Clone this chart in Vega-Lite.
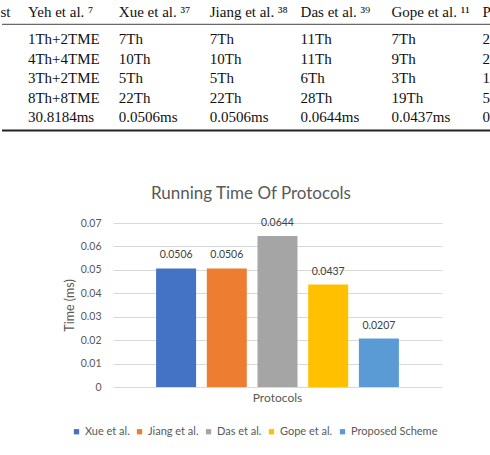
{
  "$schema": "https://vega.github.io/schema/vega-lite/v6.json",
  "padding": 0,
  "background": "white",
  "spacing": 48,
  "config": {"view": {"stroke": null}, "font": "Lato"},
  "datasets": {
    "table": [
      {"row": "h", "col": "Yeh", "text": "st"},
      {"row": "h", "col": "Yeh", "text": "Yeh et al. ⁷"},
      {"row": "h", "col": "Xue", "text": "Xue et al. ³⁷"},
      {"row": "h", "col": "Jiang", "text": "Jiang et al. ³⁸"},
      {"row": "h", "col": "Das", "text": "Das et al. ³⁹"},
      {"row": "h", "col": "Gope", "text": "Gope et al. ¹¹"},
      {"row": "h", "col": "P", "text": "P"},
      {"row": "r1", "col": "Yeh", "text": "1Th+2TME"},
      {"row": "r2", "col": "Yeh", "text": "4Th+4TME"},
      {"row": "r3", "col": "Yeh", "text": "3Th+2TME"},
      {"row": "r4", "col": "Yeh", "text": "8Th+8TME"},
      {"row": "r5", "col": "Yeh", "text": "30.8184ms"},
      {"row": "r1", "col": "Xue", "text": "7Th"},
      {"row": "r2", "col": "Xue", "text": "10Th"},
      {"row": "r3", "col": "Xue", "text": "5Th"},
      {"row": "r4", "col": "Xue", "text": "22Th"},
      {"row": "r5", "col": "Xue", "text": "0.0506ms"},
      {"row": "r1", "col": "Jiang", "text": "7Th"},
      {"row": "r2", "col": "Jiang", "text": "10Th"},
      {"row": "r3", "col": "Jiang", "text": "5Th"},
      {"row": "r4", "col": "Jiang", "text": "22Th"},
      {"row": "r5", "col": "Jiang", "text": "0.0506ms"},
      {"row": "r1", "col": "Das", "text": "11Th"},
      {"row": "r2", "col": "Das", "text": "11Th"},
      {"row": "r3", "col": "Das", "text": "6Th"},
      {"row": "r4", "col": "Das", "text": "28Th"},
      {"row": "r5", "col": "Das", "text": "0.0644ms"},
      {"row": "r1", "col": "Gope", "text": "7Th"},
      {"row": "r2", "col": "Gope", "text": "9Th"},
      {"row": "r3", "col": "Gope", "text": "3Th"},
      {"row": "r4", "col": "Gope", "text": "19Th"},
      {"row": "r5", "col": "Gope", "text": "0.0437ms"},
      {"row": "r1", "col": "P", "text": "2"},
      {"row": "r2", "col": "P", "text": "2"},
      {"row": "r3", "col": "P", "text": "1"},
      {"row": "r4", "col": "P", "text": "5"},
      {"row": "r5", "col": "P", "text": "0"}
    ],
    "lines": [{"row": "h", "kind": "header"}, {"row": "r5", "kind": "bottom"}],
    "chart": [
      {"cat": "Protocols", "protocol": "Xue et al.", "time": 0.0506},
      {"cat": "Protocols", "protocol": "Jiang et al.", "time": 0.0506},
      {"cat": "Protocols", "protocol": "Das et al.", "time": 0.0644},
      {"cat": "Protocols", "protocol": "Gope et al.", "time": 0.0437},
      {"cat": "Protocols", "protocol": "Proposed Scheme", "time": 0.0207}
    ]
  },
  "vconcat": [
    {
      "width": 490,
      "height": 136.5,
      "encoding": {
        "y": {"field": "row", "type": "nominal", "axis": null,
              "scale": {"type": "band", "domain": ["h", "r1", "r2", "r3", "r4", "r5"], "paddingInner": 0, "paddingOuter": 0.5}}
      },
      "layer": [
        {
          "data": {"name": "table"},
          "transform": [{"filter": "datum.row != 'h'"}],
          "mark": {"type": "text", "align": "left", "baseline": "middle", "font": "Liberation Serif", "fontSize": 15, "color": "#111111"},
          "encoding": {
            "x": {"field": "col", "type": "nominal", "axis": null,
                  "scale": {"type": "point", "domain": ["Yeh", "Xue", "Jiang", "Das", "Gope", "P"], "padding": 0.1953, "align": 0.73}},
            "text": {"field": "text"}
          }
        },
        {
          "data": {"name": "table"},
          "transform": [{"filter": "datum.row == 'h' && datum.text != 'st'"}],
          "mark": {"type": "text", "align": "left", "baseline": "middle", "font": "Liberation Serif", "fontSize": 15, "color": "#111111"},
          "encoding": {
            "x": {"field": "col", "type": "nominal", "axis": null},
            "y": {"field": "row", "type": "nominal", "bandPosition": 0.1},
            "text": {"field": "text"}
          }
        },
        {
          "data": {"name": "table"},
          "transform": [{"filter": "datum.text == 'st'"}],
          "mark": {"type": "text", "align": "right", "baseline": "middle", "dx": -17.5, "font": "Liberation Serif", "fontSize": 15, "color": "#111111"},
          "encoding": {
            "x": {"field": "col", "type": "nominal", "axis": null},
            "y": {"field": "row", "type": "nominal", "bandPosition": 0.1},
            "text": {"field": "text"}
          }
        },
        {
          "data": {"name": "lines"},
          "transform": [{"filter": "datum.kind == 'header'"}],
          "mark": {"type": "rule", "color": "#444444", "strokeWidth": 1},
          "encoding": {"y": {"field": "row", "type": "nominal", "bandPosition": 0.746}}
        },
        {
          "data": {"name": "lines"},
          "transform": [{"filter": "datum.kind == 'bottom'"}],
          "mark": {"type": "rule", "color": "#222222", "strokeWidth": 2},
          "encoding": {"y": {"field": "row", "type": "nominal", "bandPosition": 1.19}}
        }
      ]
    },
    {
      "spacing": 0,
      "hconcat": [
        {
          "width": 61,
          "height": 10,
          "data": {"values": [{"blank": ""}]},
          "mark": {"type": "text"},
          "encoding": {"text": {"field": "blank"}}
        },
        {
          "width": 329,
          "height": 164,
          "data": {"name": "chart"},
          "title": {"text": "Running Time Of Protocols", "font": "Lato", "fontSize": 17, "fontWeight": "normal", "color": "#595959", "anchor": "middle", "frame": "group", "dx": -26.5, "offset": 15},
          "encoding": {
            "x": {"field": "cat", "type": "nominal", "scale": {"paddingInner": 0, "paddingOuter": 0},
                  "axis": {"title": null, "labelAngle": 0, "ticks": false, "domain": false, "labelPadding": 5, "labelFontSize": 12, "labelColor": "#595959", "labelFont": "Lato"}},
            "xOffset": {"field": "protocol", "type": "nominal",
                        "scale": {"domain": ["Xue et al.", "Jiang et al.", "Das et al.", "Gope et al.", "Proposed Scheme"], "paddingInner": 0.211, "paddingOuter": 0.85}},
            "y": {"field": "time", "type": "quantitative", "scale": {"domain": [0, 0.07], "nice": false},
                  "axis": {"title": "Time (ms)", "values": [0, 0.01, 0.02, 0.03, 0.04, 0.05, 0.06, 0.07], "format": ".2~f", "grid": true, "gridColor": "#d9d9d9", "domain": false, "ticks": false, "tickSize": 0, "labelPadding": 12, "labelFontSize": 10.5, "labelColor": "#595959", "labelFont": "Lato", "titleFont": "Lato", "titleFontSize": 12.5, "titleFontWeight": "normal", "titleColor": "#595959", "titlePadding": 4}}
          },
          "layer": [
            {
              "mark": {"type": "bar"},
              "encoding": {
                "color": {"field": "protocol", "type": "nominal",
                          "scale": {"domain": ["Xue et al.", "Jiang et al.", "Das et al.", "Gope et al.", "Proposed Scheme"], "range": ["#4472C4", "#ED7D31", "#A5A5A5", "#FFC000", "#5B9BD5"]},
                          "legend": {"orient": "none", "legendX": 69, "legendY": 426, "direction": "horizontal", "title": null, "symbolType": "square", "symbolSize": 28, "symbolStrokeWidth": 0, "labelFontSize": 11, "labelColor": "#595959", "labelFont": "Lato", "labelOffset": 3, "columnPadding": 4}}
              }
            },
            {
              "mark": {"type": "text", "dy": -10, "baseline": "alphabetic", "fontSize": 10.5, "font": "Lato", "color": "#404040"},
              "encoding": {"text": {"field": "time", "type": "quantitative", "format": ".4f"}}
            }
          ]
        }
      ]
    }
  ]
}
